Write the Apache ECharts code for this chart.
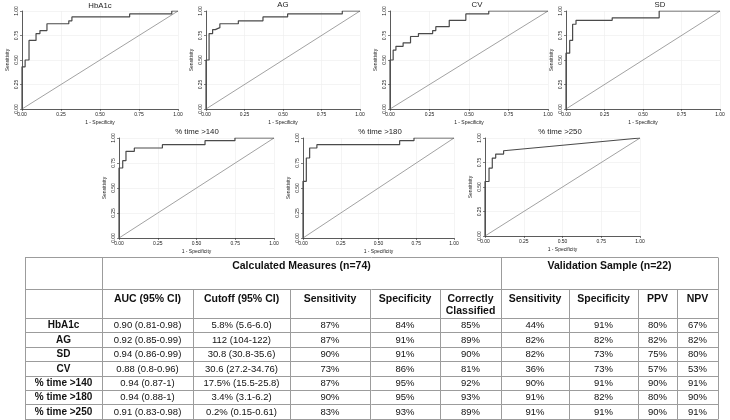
<!DOCTYPE html>
<html>
<head>
<meta charset="utf-8">
<script src="https://cdn.jsdelivr.net/npm/echarts@6/dist/echarts.min.js"></script>
<style>
html,body{margin:0;padding:0;background:#fff;}
#chart{width:730px;height:420px;}
</style>
</head>
<body>
<div id="chart"></div>
<script>
// ---------- data ----------
const panelTitles = ['HbA1c', 'AG', 'CV', 'SD', '% time >140', '% time >180', '% time >250'];
const tickLabels = ['0.00', '0.25', '0.50', '0.75', '1.00'];

const hba1cFpr  = [0, 0, 0.02, 0.02, 0.045, 0.045, 0.09, 0.09, 0.115, 0.115, 0.16, 0.16, 0.30, 0.30, 0.32, 0.32, 0.69, 0.69, 0.96, 0.96, 1];
const hba1cSens = [0, 0.43, 0.43, 0.50, 0.50, 0.70, 0.70, 0.77, 0.77, 0.80, 0.80, 0.87, 0.87, 0.90, 0.90, 0.94, 0.94, 0.97, 0.97, 1, 1];

const agFpr  = [0, 0, 0.02, 0.02, 0.043, 0.043, 0.06, 0.06, 0.09, 0.09, 0.21, 0.21, 0.37, 0.37, 0.53, 0.53, 0.885, 0.885, 1];
const agSens = [0, 0.50, 0.50, 0.77, 0.77, 0.81, 0.81, 0.83, 0.83, 0.87, 0.87, 0.90, 0.90, 0.94, 0.94, 0.97, 0.97, 1, 1];

const cvFpr  = [0, 0, 0.02, 0.02, 0.0375, 0.0375, 0.083, 0.083, 0.13, 0.13, 0.18, 0.18, 0.27, 0.27, 0.29, 0.29, 0.375, 0.375, 0.48, 0.48, 0.625, 0.625, 1];
const cvSens = [0, 0.50, 0.50, 0.60, 0.60, 0.64, 0.64, 0.675, 0.675, 0.74, 0.74, 0.77, 0.77, 0.80, 0.80, 0.84, 0.84, 0.905, 0.905, 0.97, 0.97, 1, 1];

const sdFpr  = [0, 0, 0.024, 0.024, 0.043, 0.043, 0.065, 0.065, 0.30, 0.30, 0.605, 0.605, 1];
const sdSens = [0, 0.57, 0.57, 0.70, 0.70, 0.865, 0.865, 0.905, 0.905, 0.93, 0.93, 1, 1];

const t140Fpr  = [0, 0, 0.024, 0.024, 0.045, 0.045, 0.099, 0.099, 0.28, 0.28, 0.555, 0.555, 0.748, 0.748, 1];
const t140Sens = [0, 0.70, 0.70, 0.773, 0.773, 0.867, 0.867, 0.90, 0.90, 0.933, 0.933, 0.973, 0.973, 1, 1];

const t180Fpr  = [0, 0, 0.022, 0.022, 0.044, 0.044, 0.092, 0.092, 0.64, 0.64, 0.735, 0.735, 1];
const t180Sens = [0, 0.567, 0.567, 0.80, 0.80, 0.90, 0.90, 0.933, 0.933, 0.973, 0.973, 1, 1];

const t250Fpr  = [0, 0, 0.026, 0.026, 0.047, 0.047, 0.069, 0.069, 0.12, 0.12, 1];
const t250Sens = [0, 0.556, 0.556, 0.693, 0.693, 0.795, 0.795, 0.836, 0.836, 0.87, 1];

const refFpr  = [0, 1];
const refSens = [0, 1];

// table data
const groupHeaders = ['Calculated Measures (n=74)', 'Validation Sample (n=22)'];
const colHeaders = ['AUC (95% CI)', 'Cutoff (95% CI)', 'Sensitivity', 'Specificity', 'Correctly\nClassified', 'Sensitivity', 'Specificity', 'PPV', 'NPV'];
const rowLabels = ['HbA1c', 'AG', 'SD', 'CV', '% time >140', '% time >180', '% time >250'];
const aucCI    = ['0.90 (0.81-0.98)', '0.92 (0.85-0.99)', '0.94 (0.86-0.99)', '0.88 (0.8-0.96)', '0.94 (0.87-1)', '0.94 (0.88-1)', '0.91 (0.83-0.98)'];
const cutoffCI = ['5.8% (5.6-6.0)', '112 (104-122)', '30.8 (30.8-35.6)', '30.6 (27.2-34.76)', '17.5% (15.5-25.8)', '3.4% (3.1-6.2)', '0.2% (0.15-0.61)'];
const calcSens = ['87%', '87%', '90%', '73%', '87%', '90%', '83%'];
const calcSpec = ['84%', '91%', '91%', '86%', '95%', '95%', '93%'];
const correct  = ['85%', '89%', '90%', '81%', '92%', '93%', '89%'];
const valSens  = ['44%', '82%', '82%', '36%', '90%', '91%', '91%'];
const valSpec  = ['91%', '82%', '73%', '73%', '91%', '82%', '91%'];
const valPPV   = ['80%', '82%', '75%', '57%', '90%', '80%', '90%'];
const valNPV   = ['67%', '82%', '80%', '53%', '91%', '90%', '91%'];

// ---------- layout ----------
const curves = [
  [hba1cFpr, hba1cSens], [agFpr, agSens], [cvFpr, cvSens], [sdFpr, sdSens],
  [t140Fpr, t140Sens], [t180Fpr, t180Sens], [t250Fpr, t250Sens]
];
const grids = [
  {left: 22, top: 11, width: 156, height: 98},
  {left: 206, top: 11, width: 154, height: 98},
  {left: 390, top: 11, width: 158, height: 98},
  {left: 566, top: 11, width: 154, height: 98},
  {left: 119, top: 138, width: 155, height: 100},
  {left: 303, top: 138, width: 151, height: 100},
  {left: 485, top: 138, width: 155, height: 98}
];
const titlePos = [[100, 6], [283, 5], [477, 5], [660, 5], [197, 132], [380, 132], [560, 132]];

const FONT = '"Liberation Sans", Arial, sans-serif';
const pairs = (xs, ys) => xs.map((x, i) => [x, ys[i]]);

const xAxes = [], yAxes = [], series = [];
grids.forEach((g, i) => {
  const common = {
    type: 'value', min: 0, max: 1, interval: 0.25, gridIndex: i,
    axisLine: {show: true, lineStyle: {color: '#333', width: 0.8}},
    axisTick: {show: true, length: 2, lineStyle: {color: '#333', width: 0.6}},
    splitLine: {show: true, lineStyle: {color: '#ececec', width: 0.6}},
    nameTextStyle: {fontSize: 5, color: '#222', fontFamily: FONT},
    nameLocation: 'middle'
  };
  xAxes.push(Object.assign({}, common, {
    name: '1 - Specificity', nameGap: 11,
    axisLabel: {fontSize: 5, color: '#222', fontFamily: FONT, margin: 3,
      formatter: v => tickLabels[Math.round(v * 4)], showMinLabel: true, showMaxLabel: true, hideOverlap: false}
  }));
  yAxes.push(Object.assign({}, common, {
    name: 'Sensitivity', nameGap: 12, nameRotate: 90,
    axisLabel: {fontSize: 5, color: '#222', fontFamily: FONT, margin: 3, rotate: 90,
      formatter: v => tickLabels[Math.round(v * 4)], showMinLabel: true, showMaxLabel: true, hideOverlap: false}
  }));
  series.push({
    type: 'line', xAxisIndex: i, yAxisIndex: i, data: pairs(refFpr, refSens),
    showSymbol: false, lineStyle: {color: '#8a8a8a', width: 0.8}, silent: true, z: 2
  });
  series.push({
    type: 'line', xAxisIndex: i, yAxisIndex: i, data: pairs(curves[i][0], curves[i][1]),
    showSymbol: false, lineStyle: {color: '#4a4a4a', width: 1.2}, silent: true, z: 3
  });
});

// ---------- table as graphic ----------
const colX = [25, 102, 193, 290, 370, 440, 501, 569, 638, 677, 718];
const rowY = [257, 289, 318, 332.4, 346.8, 361.2, 375.6, 390, 404.4, 418.8];
const LINE = '#9c9c9c';
const gfx = [];
const hline = (x1, x2, y) => gfx.push({type: 'line', silent: true,
  shape: {x1: x1, y1: Math.round(y) + 0.5, x2: x2, y2: Math.round(y) + 0.5}, style: {stroke: LINE, lineWidth: 1}});
const vline = (x, y1, y2) => gfx.push({type: 'line', silent: true,
  shape: {x1: Math.round(x) + 0.5, y1: y1, x2: Math.round(x) + 0.5, y2: y2}, style: {stroke: LINE, lineWidth: 1}});
const text = (s, x, y, size, weight) => gfx.push({type: 'text', silent: true, x: x, y: y,
  style: {text: s, align: 'center', verticalAlign: 'middle', fill: '#111',
    fontSize: size, fontWeight: weight, fontFamily: FONT, lineHeight: size * 1.15}});

rowY.forEach(y => hline(colX[0], colX[colX.length - 1], y));
const tableTop = Math.round(rowY[0]) + 0.5, tableBottom = Math.round(rowY[rowY.length - 1]) + 0.5;
[0, 1, 6, 10].forEach(ci => vline(colX[ci], tableTop, tableBottom));
[2, 3, 4, 5, 7, 8, 9].forEach(ci => vline(colX[ci], Math.round(rowY[1]) + 0.5, tableBottom));

// titles of panels
panelTitles.forEach((t, i) => gfx.push({type: 'text', silent: true, x: titlePos[i][0], y: titlePos[i][1],
  style: {text: t, align: 'center', verticalAlign: 'middle', fill: '#222', fontSize: 7.8, fontFamily: FONT}}));

text(groupHeaders[0], (colX[1] + colX[6]) / 2, 266, 10.5, 'bold');
text(groupHeaders[1], (colX[6] + colX[10]) / 2, 266, 10.5, 'bold');
colHeaders.forEach((h, i) => {
  const cx = (colX[i + 1] + colX[i + 2]) / 2;
  const y = h.indexOf('\n') >= 0 ? 304.8 : 299;
  text(h, cx, y, 10.5, 'bold');
});
const cols = [aucCI, cutoffCI, calcSens, calcSpec, correct, valSens, valSpec, valPPV, valNPV];
rowLabels.forEach((r, ri) => {
  const cy = (rowY[ri + 2] + rowY[ri + 3]) / 2 + 0.5;
  text(r, (colX[0] + colX[1]) / 2, cy, 10, 'bold');
  cols.forEach((c, ci) => text(c[ri], (colX[ci + 1] + colX[ci + 2]) / 2, cy, 9.5, 'normal'));
});

const chart = echarts.init(document.getElementById('chart'), null, {renderer: 'canvas'});
chart.setOption({
  animation: false,
  backgroundColor: '#fff',
  grid: grids.map(g => Object.assign({containLabel: false}, g)),
  xAxis: xAxes,
  yAxis: yAxes,
  series: series,
  graphic: gfx
});
</script>
</body>
</html>
